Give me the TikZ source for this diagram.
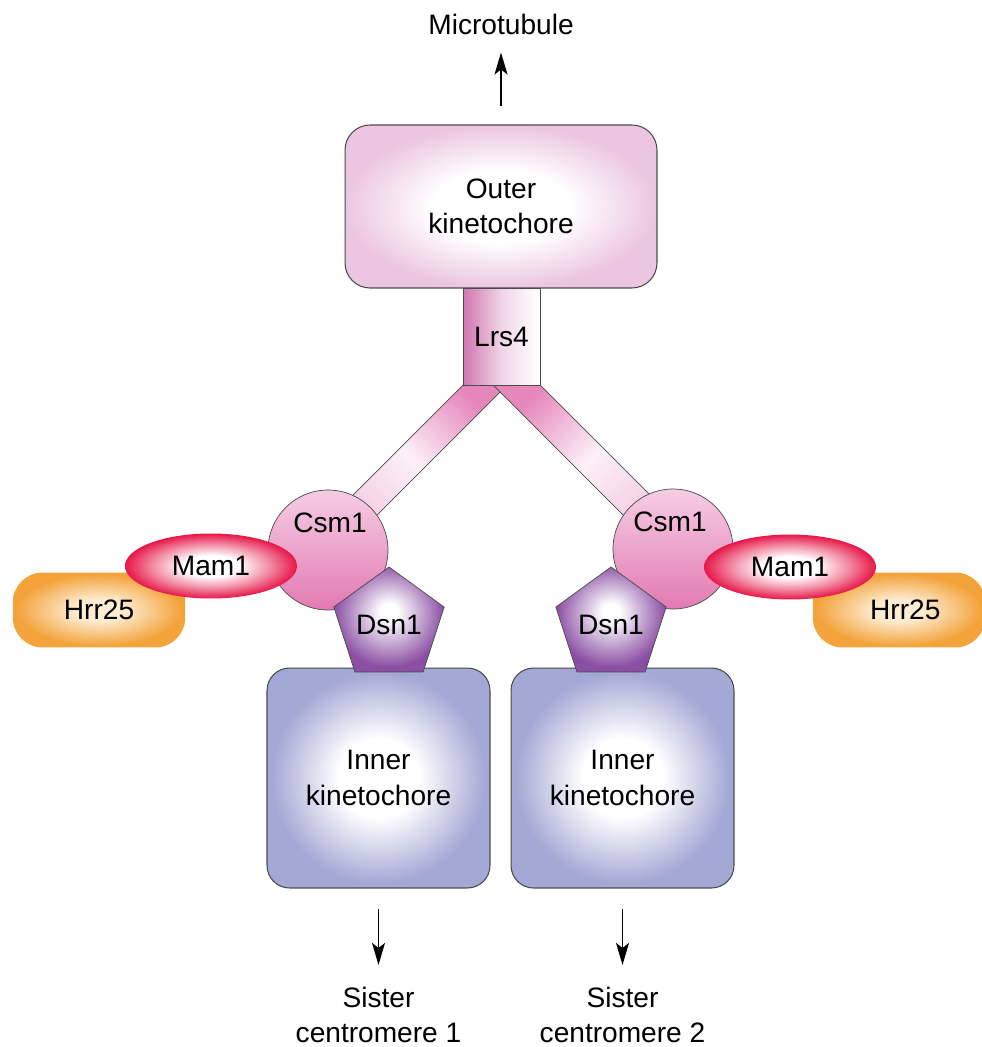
\documentclass[tikz,border=0pt]{standalone}
\usepackage{fontspec}
\setmainfont{Liberation Sans}
\usetikzlibrary{arrows.meta,positioning,shapes.geometric}
\definecolor{outerpink}{RGB}{236,198,224}
\definecolor{lrspink}{RGB}{208,116,176}
\definecolor{armpink}{RGB}{230,135,188}
\definecolor{csmlight}{RGB}{246,205,227}
\definecolor{csmpink}{RGB}{226,122,178}
\definecolor{mamred}{RGB}{230,22,72}
\definecolor{hrrorange}{RGB}{243,163,58}
\definecolor{hrrlight}{RGB}{253,236,210}
\definecolor{dsnpurple}{RGB}{138,78,163}
\definecolor{innerblue}{RGB}{164,168,213}
\definecolor{edgegray}{RGB}{75,75,75}
\pgfdeclareradialshading{mamfade}{\pgfpoint{0bp}{0bp}}{color(0bp)=(white); color(8bp)=(white); color(17bp)=(mamred!50); color(25bp)=(mamred); color(50bp)=(mamred)}
\pgfdeclareradialshading{outerfade}{\pgfpoint{0bp}{0bp}}{color(0bp)=(white); color(11bp)=(white); color(25bp)=(outerpink); color(50bp)=(outerpink)}
\pgfdeclareradialshading{innerfade}{\pgfpoint{0bp}{0bp}}{color(0bp)=(white); color(9bp)=(white); color(24bp)=(innerblue); color(50bp)=(innerblue)}
\pgfdeclareradialshading{hrrfade}{\pgfpoint{0bp}{0bp}}{color(0bp)=(hrrlight); color(7bp)=(hrrlight); color(24bp)=(hrrorange); color(50bp)=(hrrorange)}
\pgfdeclareradialshading{dsnfade}{\pgfpoint{0bp}{4bp}}{color(0bp)=(white); color(4bp)=(white); color(25bp)=(dsnpurple); color(50bp)=(dsnpurple)}

\begin{document}
\begin{tikzpicture}[x=0.02cm,y=-0.02cm,
font=\fontsize{16}{20}\selectfont,
outerbox/.style={draw=edgegray,line width=0.6pt,rounded corners=0.5cm,shading=outerfade,minimum width=6.24cm,minimum height=3.26cm,align=center},
innerbox/.style={draw=edgegray,line width=0.6pt,rounded corners=0.45cm,shading=innerfade,minimum width=4.46cm,minimum height=4.4cm,align=center},
lrs/.style={draw=edgegray,line width=0.4pt,left color=lrspink,right color=white,middle color=lrspink!30,minimum width=1.54cm,minimum height=1.94cm},
arm/.style={draw=edgegray,line width=0.4pt,top color=armpink,bottom color=armpink!45,middle color=armpink!12},
csm/.style={circle,draw=edgegray,line width=0.4pt,top color=csmlight,bottom color=csmpink,minimum size=2.4cm,inner sep=0pt},
mam/.style={ellipse,shading=mamfade,minimum width=3.44cm,minimum height=1.3cm,inner sep=0pt},
hrr/.style={rounded corners=0.6cm,shading=hrrfade,minimum width=3.45cm,minimum height=1.5cm},
dsn/.style={regular polygon,regular polygon sides=5,draw=edgegray,line width=0.4pt,shading=dsnfade,minimum size=2.32cm,inner sep=0pt},
lbl/.style={align=center},
arr/.style={-{Stealth[length=4.4mm,width=2.6mm,inset=1mm]},line width=0.8pt}
]
\useasboundingbox (0,0) rectangle (982,1047);

% arms of the fork
\path[arm,shading angle=-45] (463,385) -- (507,385) -- (360,532) -- (316,532) -- cycle;
\path[arm,shading angle=45] (540,385) -- (493,385) -- (640,532) -- (687,532) -- cycle;

\node[lbl] (micro) at (501,24) {Microtubule};
\node[outerbox] (outer) at (501,206.5) {Outer\\kinetochore};
\node[lrs] (lrs) at (501.5,336.5) {Lrs4};

\node[innerbox] (innerL) at (378.5,778) {Inner\\kinetochore};
\node[innerbox, right=0.4cm of innerL] (innerR) {Inner\\kinetochore};

\node[hrr] (hrrL) at (99,610) {Hrr25};
\node[hrr] (hrrR) at (899,610) {\hspace{0.25cm}Hrr25};

\node[csm] (csmL) at (328,550) {};
\node[csm] (csmR) at (673,549) {};
\node[lbl] (csmLtxt) at (330,523) {Csm1};
\node[lbl] (csmRtxt) at (670,522) {Csm1};

\node[dsn] (dsnL) at (389,625) {Dsn1};
\node[dsn] (dsnR) at (611,625) {Dsn1};

\node[mam] (mamL) at (211,566) {Mam1};
\node[mam] (mamR) at (790,567) {Mam1};

\node[lbl] (sisL) at (378.5,1015) {Sister\\centromere 1};
\node[lbl] (sisR) at (innerR |- sisL) {Sister\\centromere 2};

\draw[arr,shorten <=0.36cm,shorten >=0.24cm] (outer) -- (micro);
\draw[arr,shorten <=0.4cm,shorten >=0.32cm] (innerL) -- (sisL);
\draw[arr,shorten <=0.4cm,shorten >=0.32cm] (innerR) -- (sisR);
\end{tikzpicture}
\end{document}
